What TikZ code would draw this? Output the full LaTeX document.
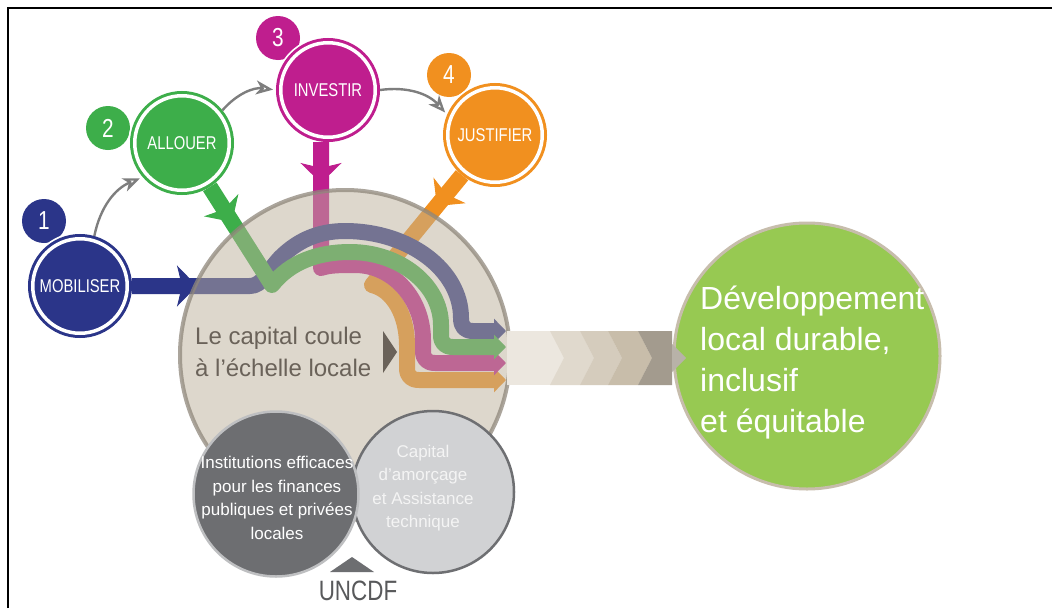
\documentclass[tikz,border=0pt]{standalone}
\usepackage{fontspec}
\setmainfont{Liberation Sans}
\newfontfamily\condfont{Liberation Sans}[FakeStretch=0.8]
\usetikzlibrary{arrows.meta}

\definecolor{mobBlue}{HTML}{2B3589}
\definecolor{allocGreen}{HTML}{3DAE4A}
\definecolor{invMagenta}{HTML}{BF1E8E}
\definecolor{jusOrange}{HTML}{F1901F}
\definecolor{capFill}{HTML}{BDB19B}
\definecolor{capLine}{HTML}{8F877B}
\definecolor{capText}{HTML}{6A6259}
\definecolor{devGreen}{HTML}{97C952}
\definecolor{devLine}{HTML}{C7BDAC}
\definecolor{chevA}{HTML}{ECE7DF}
\definecolor{chevB}{HTML}{E0D9CD}
\definecolor{chevC}{HTML}{D5CCBD}
\definecolor{chevD}{HTML}{C8BDAA}
\definecolor{chevE}{HTML}{A39B8E}
\definecolor{chevTip}{HTML}{B8B2A8}
\definecolor{instDark}{HTML}{6D6E71}
\definecolor{instLine}{HTML}{BEBFC1}
\definecolor{seedLight}{HTML}{D1D2D4}
\definecolor{seedLine}{HTML}{6E6F72}
\definecolor{seedText}{HTML}{F4F4F4}
\definecolor{uncdfGray}{HTML}{58595B}
\definecolor{orderGray}{HTML}{7E7E7E}

\tikzset{
    stageCircle/.style={circle, fill=#1, draw=#1, double=white, double distance=3.5pt,
        line width=3pt, minimum size=94.5pt, inner sep=0pt, outer sep=4.75pt,
        text=white, font=\condfont\fontsize{18.5}{20}\selectfont,
        preaction={draw=white, line width=13pt}},
    numBadge/.style={circle, fill=#1, minimum size=44pt, inner sep=0pt, text=white,
        font=\condfont\fontsize{26}{26}\selectfont},
    flowLine/.style={line width=16pt, #1, line join=round},
    flowTail/.style={-{Triangle[length=12pt, width=24pt]}},
    stemBarb/.style={line width=1pt, #1, -{Stealth[length=20pt, width=41pt, inset=5pt]}},
    orderArrow/.style={line width=2.4pt, orderGray, bend left=28, shorten >=3pt,
        -{Stealth[open, length=17pt, width=14pt, inset=5pt]}},
}

\begin{document}
\begin{tikzpicture}[x=1pt, y=-1pt]

    \path [use as bounding box, fill=white] (0,0) rectangle (1052,608);
    \draw [line width=2pt] (8,608) -- (8,8) -- (1052,8);

    % points of the flows
    \coordinate (bBend) at (250,286);
    \coordinate (gV) at (272,285);
    \coordinate (mV) at (321,268);
    \coordinate (oV) at (372,285);
    \coordinate (bEnd) at (506,331);
    \coordinate (gEnd) at (506,347);
    \coordinate (mEnd) at (506,363);
    \coordinate (oEnd) at (506,380);
    \coordinate (bBase) at (177,286);
    \coordinate (bTip) at (197,286);
    \coordinate (gBase) at (221,205);
    \coordinate (gTip) at (232,222);
    \coordinate (mBase) at (321,163);
    \coordinate (mTip) at (321,183);
    \coordinate (oBase) at (449,191);
    \coordinate (oTip) at (437,206);

    % the four steps
    \node [numBadge=mobBlue] (mobNum) at (44,221) {1};
    \node [numBadge=allocGreen] (allocNum) at (108,128) {2};
    \node [numBadge=invMagenta] (invNum) at (278,38) {3};
    \node [numBadge=jusOrange] (jusNum) at (449,75) {4};

    \node [stageCircle=mobBlue] (mob) at (80,286) {MOBILISER};
    \node [stageCircle=allocGreen] (alloc) at (182,143) {ALLOUER};
    \node [stageCircle=invMagenta] (inv) at (328,90) {INVESTIR};
    \node [stageCircle=jusOrange] (jus) at (495,135) {JUSTIFIER};

    \draw [orderArrow] (mob.74) to (alloc.221);
    \draw [orderArrow] (alloc.39) to (inv.180);
    \draw [orderArrow] (inv.0) to (jus.157);

    % flows
    \draw [flowLine=jusOrange, flowTail] (jus) -- (oV)
        .. controls (393,290) and (407,315) .. (407,345) -- (407,368)
        .. controls (407,376) and (411,380) .. (419,380) -- (oEnd);
    \draw [flowLine=invMagenta, flowTail] (inv.south -| mV) -- (mV)
        .. controls (330,265) and (340,265) .. (355,265)
        .. controls (393,265) and (423,299) .. (423,340) -- (423,351)
        .. controls (423,359) and (427,363) .. (435,363) -- (mEnd);
    \draw [flowLine=mobBlue, flowTail] (mob.east) -- (bBend)
        .. controls (262,286) and (267,272) .. (280,258)
        .. controls (295,243) and (315,231) .. (345,231)
        .. controls (409,231) and (461,270) .. (461,318)
        .. controls (461,327) and (465,331) .. (473,331) -- (bEnd);
    \draw [flowLine=allocGreen, flowTail] (alloc) -- (gV)
        .. controls (290,262) and (318,252) .. (350,252)
        .. controls (400,252) and (441,285) .. (441,325) -- (441,335)
        .. controls (441,343) and (445,347) .. (453,347) -- (gEnd);

    \draw [stemBarb=mobBlue] (bBase) -- (bTip);
    \draw [stemBarb=allocGreen] (gBase) -- (gTip);
    \draw [stemBarb=invMagenta] (mBase) -- (mTip);
    \draw [stemBarb=jusOrange] (oBase) -- (oTip);

    % capital circle over the flows
    \node [circle, minimum size=330pt, fill=capFill, fill opacity=0.5,
        draw=capLine, draw opacity=0.75, line width=4pt] (capital) at (345,355) {};
    \node [anchor=west, align=left, inner sep=0pt, text=capText,
        font=\fontsize{24}{32}\selectfont] (flowTxt) at (195,352)
        {Le capital coule\\à l'échelle locale};
    \fill [capText] (383,331) -- (397,352) -- (383,373) -- cycle;

    % result
    \node [circle, minimum size=266pt, fill=devGreen, draw=devLine, line width=3pt]
        (devel) at (807,356) {};
    \fill [chevA] (507,331) rectangle (672,385);
    \foreach \xa/\xb/\col in {550/580/chevB, 580/608/chevC, 608/638/chevD}{
        \fill [\col] (\xa,331) -- (\xb,331) -- (\xb+14,358) -- (\xb,385)
            -- (\xa,385) -- (\xa+14,358) -- cycle;
    }
    \fill [chevE] (638,331) -- (672,331) -- (672,385) -- (638,385) -- (652,358) -- cycle;
    \fill [chevTip] (672,344) -- (686,358) -- (672,372) -- cycle;
    \node [anchor=west, align=left, inner sep=0pt, text=white,
        font=\fontsize{32}{41}\selectfont] (develTxt) at (700,363)
        {Développement\\local durable,\\inclusif\\et équitable};

    % support
    \node [circle, minimum size=162pt, fill=seedLight, draw=seedLine, line width=2.5pt]
        (seed) at (433,492) {};
    \node [align=center, inner sep=0pt, text=seedText, font=\fontsize{17}{23.5}\selectfont]
        (seedTxt) at (423,488) {Capital\\d'amorçage\\et Assistance\\technique};
    \node [circle, minimum size=165pt, fill=instDark, draw=instLine, line width=2.5pt]
        (instit) at (276,494) {};
    \node [align=center, inner sep=0pt, text=white, font=\fontsize{17}{23.5}\selectfont]
        (institTxt) at (277,498)
        {Institutions efficaces\\pour les finances\\publiques et privées\\locales};
    \fill [instDark] (330,572) -- (352,557) -- (374,572) -- cycle;
    \node [text=uncdfGray, inner sep=0pt, font=\condfont\fontsize{28}{28}\selectfont]
        (uncdf) at (358,591) {UNCDF};

\end{tikzpicture}
\end{document}
